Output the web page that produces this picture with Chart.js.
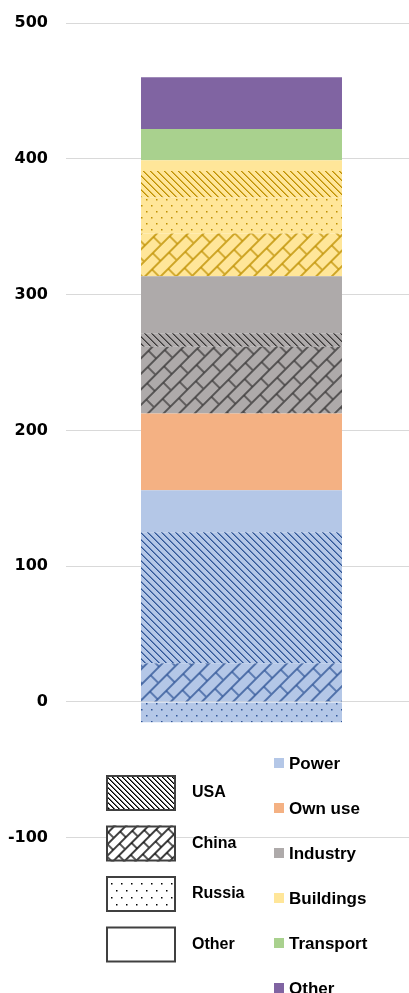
<!DOCTYPE html>
<html>
<head>
<meta charset="utf-8">
<script src="https://cdn.jsdelivr.net/npm/chart.js@4.4.1/dist/chart.umd.min.js"></script>
<style>
  html, body { margin: 0; padding: 0; background: #fff; overflow: hidden; }
  #wrap { width: 417px; height: 993px; }
</style>
</head>
<body>
<div id="wrap"><canvas id="c" width="417" height="993"></canvas></div>
<script>
// Sectors (colour) and countries (hatching); stacking order bottom to top
const sectors = ['Power', 'Own use', 'Industry', 'Buildings', 'Transport', 'Other'];
const countries = ['China', 'Russia', 'USA', 'Other'];
const legendCountries = ['USA', 'China', 'Russia', 'Other'];

// Values per sector, split by country in the order of `countries`
const power     = [28.5, -15, 96.5, 31];
const ownUse    = [0, 0, 0, 56.5];
const industry  = [49, 0, 10, 42];
const buildings = [31.5, 26.5, 19.5, 8];
const transport = [0, 0, 0, 23];
const other     = [0, 0, 0, 38];

const yTicks = [-100, 0, 100, 200, 300, 400, 500];
const yMin = -180;
const yMax = 500;

// Styling
const sectorFill = ['#B4C7E7', '#F4B183', '#AEAAAA', '#FFE699', '#A9D18E', '#8064A2'];
const sectorInk  = ['#2F5597', '#C55A11', '#3A3838', '#BF9000', '#548235', '#3F3151'];
const countryHatch = { USA: 'diag', China: 'shingle', Russia: 'dots', Other: null };

function hatch(kind, bg, ink, small) {
  const c = document.createElement('canvas');
  const g = c.getContext('2d');
  let pat;
  if (kind === 'diag') {
    const s = small ? 5 : 7;
    c.width = s; c.height = s;
    g.fillStyle = bg; g.fillRect(0, 0, s, s);
    g.fillStyle = ink;
    for (let i = 0; i < s; i++) {
      g.globalAlpha = 1; g.fillRect(i, i, 1, 1);
      g.globalAlpha = 0.6; g.fillRect((i + 1) % s, i, 1, 1);
    }
    g.globalAlpha = 1;
    pat = g.createPattern(c, 'repeat');
  } else if (kind === 'shingle') {
    const h = small ? 8 : 11, L = small ? 18 : 24;
    c.width = L; c.height = 2 * h;
    g.fillStyle = bg; g.fillRect(0, 0, L, 2 * h);
    g.strokeStyle = ink; g.lineWidth = 1.3;
    g.beginPath();
    g.moveTo(0, 1); g.lineTo(L, 1);
    g.moveTo(0, h + 1); g.lineTo(L, h + 1);
    g.moveTo(1, 1); g.lineTo(1, h + 1);
    g.moveTo(L / 2 + 1, h + 1); g.lineTo(L / 2 + 1, 2 * h + 1);
    g.stroke();
    pat = g.createPattern(c, 'repeat');
    pat.setTransform(new DOMMatrix().rotateSelf(-45));
  } else {
    const w = 10, hh = small ? 14 : 12;
    c.width = w; c.height = hh;
    g.fillStyle = bg; g.fillRect(0, 0, w, hh);
    g.fillStyle = ink;
    g.fillRect(1, 1, 1.5, 1.5);
    g.fillRect(1 + w / 2, 1 + hh / 2, 1.5, 1.5);
    pat = g.createPattern(c, 'repeat');
  }
  return pat;
}

const sectorValues = [power, ownUse, industry, buildings, transport, other];
const datasets = [];
sectorValues.forEach((vals, si) => {
  vals.forEach((v, ci) => {
    if (!v) return;
    const kind = countryHatch[countries[ci]];
    datasets.push({
      label: sectors[si] + ' / ' + countries[ci],
      data: [v],
      backgroundColor: kind ? hatch(kind, sectorFill[si], sectorInk[si], false) : sectorFill[si],
      borderWidth: 0,
      stack: 'total',
      categoryPercentage: 0.5726,
      barPercentage: 1
    });
  });
});

// Two-part legend: country hatching swatches and sector colour keys
const splitLegend = {
  id: 'splitLegend',
  afterDraw(chart) {
    const ctx = chart.ctx;
    ctx.save();
    ctx.textBaseline = 'middle';
    legendCountries.forEach((name, i) => {
      const y = 775 + 50.5 * i;
      ctx.fillStyle = '#fff';
      ctx.fillRect(106, y, 70, 36);
      const kind = countryHatch[name];
      if (kind) {
        ctx.fillStyle = hatch(kind, '#fff', '#000', true);
        ctx.fillRect(106, y, 70, 36);
      }
      ctx.strokeStyle = '#404040';
      ctx.lineWidth = 2;
      ctx.strokeRect(107, y + 1, 68, 34);
      ctx.fillStyle = '#000';
      ctx.font = 'bold 16px "Liberation Sans", Arial, sans-serif';
      ctx.fillText(name, 192, y + 18);
    });
    sectors.forEach((name, i) => {
      const cy = 763 + 45 * i;
      ctx.fillStyle = sectorFill[i];
      ctx.fillRect(274, cy - 5, 10, 10);
      ctx.fillStyle = '#000';
      ctx.font = 'bold 17px "Liberation Sans", Arial, sans-serif';
      ctx.fillText(name, 289, cy + 1);
    });
    ctx.restore();
  }
};

new Chart(document.getElementById('c'), {
  type: 'bar',
  data: { labels: [''], datasets },
  plugins: [splitLegend],
  options: {
    responsive: false,
    animation: false,
    layout: { padding: { top: 23, bottom: 46.6, left: 0, right: 0 } },
    plugins: { legend: { display: false }, tooltip: { enabled: false } },
    scales: {
      x: { display: false, stacked: true },
      y: {
        stacked: true,
        min: yMin,
        max: yMax,
        afterBuildTicks: s => { s.ticks = yTicks.map(v => ({ value: v })); },
        afterFit: s => { s.width = 66; },
        border: { display: false },
        grid: { color: '#D9D9D9', lineWidth: 1, drawTicks: true, tickLength: 5, tickColor: 'rgba(0,0,0,0)' },
        ticks: {
          padding: 13,
          color: '#000',
          font: { family: '"DejaVu Sans", sans-serif', size: 16, weight: 'bold' }
        }
      }
    }
  }
});
</script>
</body>
</html>
